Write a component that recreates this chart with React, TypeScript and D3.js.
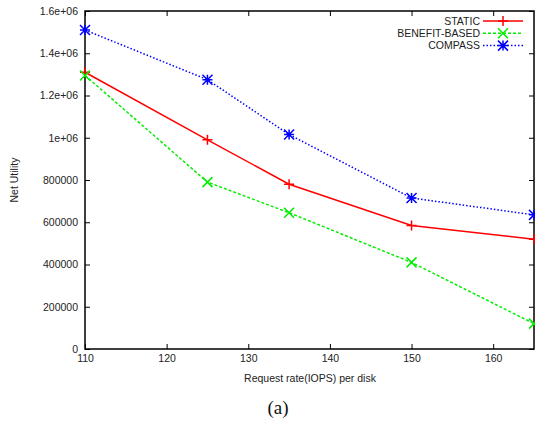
import React, { useEffect, useRef } from "react";
import { select, scaleLinear, line, axisBottom, axisLeft, axisTop, axisRight } from "d3";

// request rates (IOPS per disk)
const rates = [110, 125, 135, 150, 165];
const staticVals = [1310000, 990000, 780000, 585000, 520000];
const benefitVals = [1295000, 790000, 645000, 410000, 120000];
const compassVals = [1510000, 1275000, 1015000, 715000, 635000];

const xTicks = [110, 120, 130, 140, 150, 160];
const yTicks = [0, 200000, 400000, 600000, 800000, 1000000, 1200000, 1400000, 1600000];
const yLabels = ["0", "200000", "400000", "600000", "800000", "1e+06", "1.2e+06", "1.4e+06", "1.6e+06"];

const series = [
  { name: "STATIC", values: staticVals, color: "#ff0000", dash: "", marker: "plus" },
  { name: "BENEFIT-BASED", values: benefitVals, color: "#00ee00", dash: "3,2", marker: "cross" },
  { name: "COMPASS", values: compassVals, color: "#0000ff", dash: "1.5,2", marker: "star" },
];

const W = 535, H = 422;
const left = 85, right = 534, top = 11, bottom = 349;
const font = "Liberation Sans, Arial, sans-serif";

function markerPath(type: string, s: number) {
  if (type === "plus") return `M${-s},0H${s}M0,${-s}V${s}`;
  if (type === "cross") return `M${-s},${-s}L${s},${s}M${-s},${s}L${s},${-s}`;
  return `M${-s},0H${s}M0,${-s}V${s}M${-s},${-s}L${s},${s}M${-s},${s}L${s},${-s}`;
}

function Chart() {
  const svgRef = useRef<SVGSVGElement>(null);

  useEffect(() => {
    const svg = select(svgRef.current);
    svg.selectAll("*").remove();

    const x = scaleLinear().domain([110, 165]).range([left, right]);
    const y = scaleLinear().domain([0, 1600000]).range([bottom, top]);

    const styleAxis = (g: any) => {
      g.select(".domain").remove();
      g.selectAll("line").attr("stroke", "#000").attr("stroke-width", 1);
      g.selectAll("text").attr("font-family", font).attr("font-size", 10.5).attr("fill", "#222");
    };

    svg.append("g").attr("transform", `translate(0,${bottom})`)
      .call(axisBottom(x).tickValues(xTicks).tickSize(-5).tickPadding(6).tickFormat((d: any) => String(d)))
      .call(styleAxis);
    svg.append("g").attr("transform", `translate(0,${top})`)
      .call(axisTop(x).tickValues(xTicks).tickSize(-5).tickFormat(() => ""))
      .call(styleAxis);
    svg.append("g").attr("transform", `translate(${left},0)`)
      .call(axisLeft(y).tickValues(yTicks).tickSize(-5).tickPadding(7).tickFormat((d: any, i: number) => yLabels[i]))
      .call(styleAxis);
    svg.append("g").attr("transform", `translate(${right},0)`)
      .call(axisRight(y).tickValues(yTicks).tickSize(-5).tickFormat(() => ""))
      .call(styleAxis);

    svg.append("rect")
      .attr("x", left).attr("y", top).attr("width", right - left).attr("height", bottom - top)
      .attr("fill", "none").attr("stroke", "#000").attr("stroke-width", 1.5);

    const ln = line<number>().x((d, i) => x(rates[i])).y((d) => y(d));

    series.forEach((s) => {
      svg.append("path")
        .datum(s.values)
        .attr("d", ln)
        .attr("fill", "none")
        .attr("stroke", s.color)
        .attr("stroke-width", 1.5)
        .attr("stroke-dasharray", s.dash || null);
      svg.selectAll(null)
        .data(s.values)
        .join("path")
        .attr("transform", (d, i) => `translate(${x(rates[i])},${y(d)})`)
        .attr("d", markerPath(s.marker, 5))
        .attr("stroke", s.color)
        .attr("stroke-width", 1.5)
        .attr("fill", "none");
    });

    // legend
    const lg = svg.append("g");
    series.forEach((s, i) => {
      const ly = 21 + i * 12.3;
      lg.append("text")
        .attr("x", 480).attr("y", ly).attr("dy", "0.35em")
        .attr("text-anchor", "end")
        .attr("font-family", font).attr("font-size", 10.5).attr("fill", "#222")
        .text(s.name);
      lg.append("line")
        .attr("x1", 483).attr("x2", 523).attr("y1", ly).attr("y2", ly)
        .attr("stroke", s.color).attr("stroke-width", 1.5)
        .attr("stroke-dasharray", s.dash || null);
      lg.append("path")
        .attr("transform", `translate(503,${ly})`)
        .attr("d", markerPath(s.marker, 5))
        .attr("stroke", s.color).attr("stroke-width", 1.5).attr("fill", "none");
    });

    svg.append("text")
      .attr("transform", `translate(18,${(top + bottom) / 2}) rotate(-90)`)
      .attr("text-anchor", "middle")
      .attr("font-family", font).attr("font-size", 10.5).attr("fill", "#222")
      .text("Net Utility");

    svg.append("text")
      .attr("x", 310).attr("y", 382)
      .attr("text-anchor", "middle")
      .attr("font-family", font).attr("font-size", 10.5).attr("fill", "#222")
      .text("Request rate(IOPS) per disk");

    svg.append("text")
      .attr("x", 278).attr("y", 414)
      .attr("text-anchor", "middle")
      .attr("font-family", "Liberation Serif, Times New Roman, serif").attr("font-size", 19).attr("fill", "#111")
      .text("(a)");
  }, []);

  return (
    <svg
      ref={svgRef}
      width={W}
      height={H}
      style={{ position: "absolute", left: 0, top: 0, display: "block", background: "#fff" }}
    />
  );
}

export default function App() {
  return <Chart />;
}
